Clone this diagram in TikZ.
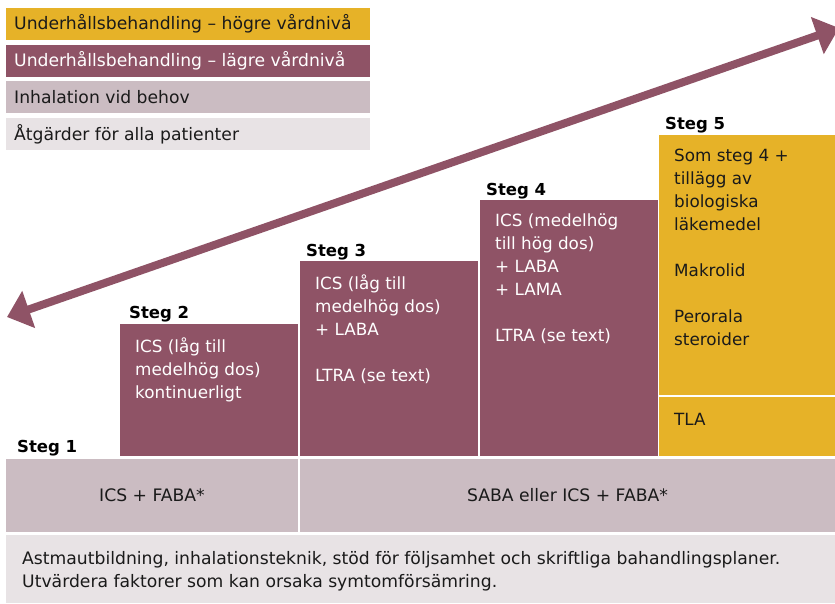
\documentclass[tikz,border=0pt]{standalone}
\usepackage{fontspec}
\setmainfont{DejaVu Sans}
\usetikzlibrary{arrows.meta}
\definecolor{gul}{HTML}{E6B228}
\definecolor{lila}{HTML}{8F5366}
\definecolor{ljuslila}{HTML}{CBBCC2}
\definecolor{ljusgra}{HTML}{E8E3E5}
\definecolor{svart}{HTML}{1A1A1A}
\tikzset{
  ruta/.style={anchor=north west,inner sep=0pt,outer sep=0pt},
  rutatext/.style={anchor=north west,align=left,inner sep=0pt,font=\fontsize{16.8}{23}\selectfont},
  stegtext/.style={anchor=base west,inner sep=0pt,text=black,font=\fontsize{16.5}{19}\selectfont\bfseries},
  legtext/.style={anchor=west,inner sep=0pt,font=\fontsize{17.2}{19}\selectfont},
}
\begin{document}
\begin{tikzpicture}[x=1pt,y=-1pt]
    \useasboundingbox (0,0) rectangle (835,603);
    % legend
    \node[ruta,fill=gul,minimum width=364pt,minimum height=32pt](leg1) at (6,8){};
    \node[ruta,fill=lila,minimum width=364pt,minimum height=32pt](leg2) at (6,45){};
    \node[ruta,fill=ljuslila,minimum width=364pt,minimum height=32pt](leg3) at (6,81){};
    \node[ruta,fill=ljusgra,minimum width=364pt,minimum height=32pt](leg4) at (6,118){};
    \node[legtext,text=svart](legt1) at (14,24){Underhållsbehandling – högre vårdnivå};
    \node[legtext,text=white](legt2) at (14,61){Underhållsbehandling – lägre vårdnivå};
    \node[legtext,text=svart](legt3) at (14,97){Inhalation vid behov};
    \node[legtext,text=svart](legt4) at (14,134){Åtgärder för alla patienter};
    % steps
    \node[ruta,fill=lila,minimum width=178pt,minimum height=132pt](s2) at (120,324){};
    \node[ruta,fill=lila,minimum width=178pt,minimum height=195pt](s3) at (300,261){};
    \node[ruta,fill=lila,minimum width=178pt,minimum height=256pt](s4) at (480,200){};
    \node[ruta,fill=gul,minimum width=176pt,minimum height=260pt](s5) at (659,135){};
    \node[ruta,fill=gul,minimum width=176pt,minimum height=59pt](tla) at (659,397){};
    \node[stegtext](st1) at (17,452){Steg 1};
    \node[stegtext](st2) at (129,318){Steg 2};
    \node[stegtext](st3) at (306,256){Steg 3};
    \node[stegtext](st4) at (486,195){Steg 4};
    \node[stegtext](st5) at (665,129){Steg 5};
    \node[rutatext,text=white](t2) at (135,338){ICS (låg till\\medelhög dos)\\kontinuerligt};
    \node[rutatext,text=white](t3) at (315,275){ICS (låg till\\medelhög dos)\\+ LABA\\[23pt]LTRA (se text)};
    \node[rutatext,text=white](t4) at (495,214){ICS (medelhög\\till hög dos)\\+ LABA\\+ LAMA\\[23pt]LTRA (se text)};
    \node[rutatext,text=svart](t5) at (674,149){Som steg 4 +\\tillägg av\\biologiska\\läkemedel\\[23pt]Makrolid\\[23pt]Perorala\\steroider};
    \node[rutatext,text=svart](t6) at (674,413){TLA};
    % bottom rows
    \node[ruta,fill=ljuslila,minimum width=292pt,minimum height=73pt](b1) at (6,459){};
    \node[ruta,fill=ljuslila,minimum width=535pt,minimum height=73pt](b2) at (300,459){};
    \node[ruta,fill=ljusgra,minimum width=829pt,minimum height=68pt](b3) at (6,535){};
    \node[legtext,anchor=center,text=svart] at (b1.center){ICS + FABA*};
    \node[legtext,anchor=center,text=svart] at (b2.center){SABA eller ICS + FABA*};
    \node[rutatext,text=svart,font=\fontsize{17.2}{23}\selectfont](t7) at (22,551){Astmautbildning, inhalationsteknik, stöd för följsamhet och skriftliga bahandlingsplaner.\\Utvärdera faktorer som kan orsaka symtomförsämring.};
    % arrow
    \coordinate (lo) at (7,317);
    \coordinate (hi) at (839,28);
    \draw[lila,line width=8pt,{Triangle[length=23pt,width=38pt]}-{Triangle[length=23pt,width=38pt]}](lo)--(hi);
\end{tikzpicture}
\end{document}
